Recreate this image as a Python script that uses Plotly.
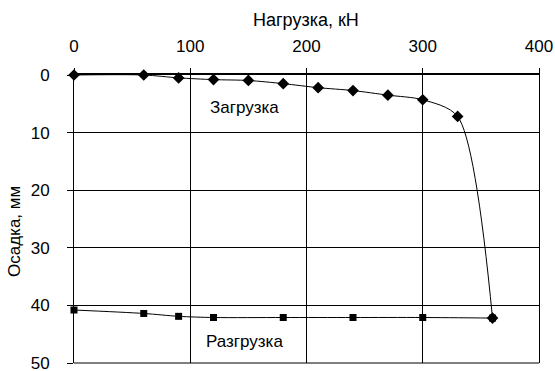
import plotly.graph_objects as go

load_x = [0, 60, 90, 120, 150, 180, 210, 240, 270, 300, 330, 360]
load_y = [0, 0, 0.5, 0.8, 0.95, 1.5, 2.2, 2.7, 3.5, 4.3, 7.2, 42.2]

unload_x = [0, 60, 90, 120, 180, 240, 300, 360]
unload_y = [40.8, 41.4, 41.9, 42.1, 42.1, 42.1, 42.1, 42.2]

x_ticks = [0, 100, 200, 300, 400]
y_ticks = [0, 10, 20, 30, 40, 50]

FONT = "Liberation Sans, Arial, sans-serif"
FS = 17

fig = go.Figure()
fig.add_trace(go.Scatter(
    x=load_x, y=load_y, mode="lines+markers", name="Загрузка",
    line=dict(color="black", width=1, shape="spline", smoothing=0.8),
    marker=dict(symbol="diamond", size=9, color="black"),
    cliponaxis=False, showlegend=False))
fig.add_trace(go.Scatter(
    x=unload_x, y=unload_y, mode="lines+markers", name="Разгрузка",
    line=dict(color="black", width=1, shape="spline", smoothing=0.8),
    marker=dict(symbol="square", size=7, color="black"),
    cliponaxis=False, showlegend=False))

fig.update_layout(
    width=555, height=371,
    margin=dict(l=74, r=16, t=75, b=8, autoexpand=False),
    paper_bgcolor="white", plot_bgcolor="white",
    font=dict(family=FONT, size=FS, color="black"),
    xaxis=dict(side="top", range=[0, 400], tickvals=x_ticks,
               showgrid=True, gridcolor="black", gridwidth=1,
               showline=True, linecolor="black", linewidth=2, mirror=False,
               ticks="outside", ticklen=5, tickcolor="black",
               ticklabelstandoff=9, zeroline=False, automargin=False,
               ticklabeloverflow="allow"),
    yaxis=dict(range=[50, 0], tickvals=y_ticks,
               showgrid=True, gridcolor="black", gridwidth=1,
               showline=True, linecolor="black", linewidth=1, mirror=True,
               ticks="outside", ticklen=6, tickcolor="black",
               ticklabelstandoff=14, zeroline=False, automargin=False,
               ticklabeloverflow="allow"),
    shapes=[dict(type="line", xref="paper", yref="paper", x0=0, x1=1, y0=0, y1=0,
                 line=dict(color="black", width=1), layer="above")],
    annotations=[
        dict(text="Нагрузка, кН", xref="paper", yref="paper",
             x=(306 - 74) / 465, y=1 + (75 - 20) / 288, showarrow=False,
             xanchor="center", yanchor="middle", font=dict(size=18)),
        dict(text="Осадка, мм", xref="paper", yref="paper",
             x=-(74 - 14) / 465, y=1 - (232 - 75) / 288, showarrow=False,
             textangle=-90, xanchor="center", yanchor="middle", font=dict(size=FS)),
        dict(text="Загрузка", x=147, y=5.7, showarrow=False,
             xanchor="center", yanchor="middle", font=dict(size=FS)),
        dict(text="Разгрузка", x=147, y=46.3, showarrow=False,
             xanchor="center", yanchor="middle", font=dict(size=FS)),
    ],
)

fig.write_html("out.html", config={"displayModeBar": False},
               post_script="document.body.style.margin='0';document.body.style.overflow='hidden';")
